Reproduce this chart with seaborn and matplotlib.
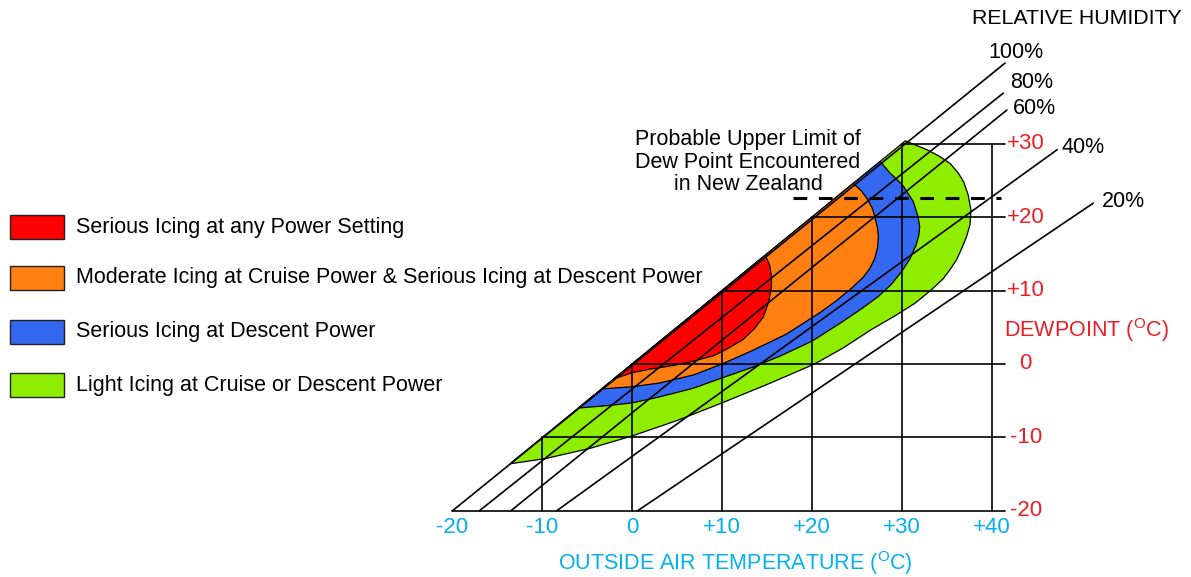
import pandas as pd
import matplotlib.pyplot as plt
from matplotlib.patches import Rectangle
import seaborn as sns

# axis ticks (deg C)
temp_ticks = [-20, -10, 0, 10, 20, 30, 40]
temp_labels = ['-20', '-10', '0', '+10', '+20', '+30', '+40']
dew_ticks = [-20, -10, 0, 10, 20, 30]
dew_labels = ['-20', '-10', '0', '+10', '+20', '+30']

# relative humidity lines (start at dewpoint -20, end point)
rh_names = ['100%', '80%', '60%', '40%', '20%']
rh_t0 = [-20.0, -17.0, -13.5, -8.4, 0.6]
rh_t1 = [41.5, 41.3, 41.7, 47.3, 51.3]
rh_d1 = [41.0, 36.9, 34.6, 29.2, 21.9]

# icing zones, outer boundary from the saturation line, clockwise
green_t = [30.4, 31.6, 32.8, 34.2, 35.4, 36.3, 36.9, 37.4, 37.7, 37.6, 37.2, 36.7, 36.1,
           35.4, 34.6, 33.2, 31.5, 29.3, 26.5, 23.5, 20.3, 15.0, 10.0, 5.0, 0.0, -4.7,
           -9.7, -13.6]
green_d = [30.4, 29.8, 29.2, 28.3, 27.3, 26.0, 24.8, 23.0, 21.0, 19.0, 17.3, 15.8, 14.2,
           12.9, 11.6, 10.0, 8.3, 6.6, 4.6, 2.2, 0.0, -2.8, -5.3, -7.7, -9.8, -11.5,
           -12.9, -13.6]
blue_t = [27.6, 28.7, 29.5, 30.2, 31.3, 31.8, 32.0, 31.9, 31.6, 30.9, 30.0, 28.8, 27.4,
          25.5, 23.2, 20.0, 16.5, 13.5, 10.0, 6.8, 3.0, 0.0, -3.0, -6.0]
blue_d = [27.6, 26.0, 25.1, 24.2, 22.1, 20.1, 18.7, 17.5, 16.2, 14.3, 12.6, 10.8, 9.2,
          7.5, 5.6, 3.1, 1.1, -0.4, -1.9, -3.3, -4.5, -5.3, -5.7, -6.0]
orange_t = [24.6, 25.5, 26.1, 26.7, 27.0, 27.3, 27.4, 27.3, 27.0, 26.5, 25.7, 24.3,
            22.7, 20.9, 17.2, 13.5, 10.0, 6.8, 3.0, 0.0, -3.4]
orange_d = [24.6, 23.6, 22.6, 21.3, 20.1, 18.5, 17.3, 15.8, 14.4, 13.1, 11.8, 10.2,
            8.6, 7.0, 4.1, 1.9, 0.0, -1.5, -2.6, -3.1, -3.4]
red_t = [14.8, 15.3, 15.5, 15.5, 15.2, 14.6, 13.6, 12.3, 10.5, 9.0, 6.5, 4.6, 2.0, 0.0, -2.0]
red_d = [14.8, 13.5, 12.0, 10.5, 8.5, 6.4, 4.8, 3.3, 2.0, 1.1, 0.3, -0.2, -0.7, -1.2, -2.0]

zone_names = ['Serious Icing at any Power Setting',
              'Moderate Icing at Cruise Power & Serious Icing at Descent Power',
              'Serious Icing at Descent Power',
              'Light Icing at Cruise or Descent Power']
zone_colors = ['#FF0000', '#FF7F10', '#3468F0', '#8FEE00']

nz_limit = 22.6  # probable upper dewpoint in NZ
nz_t = [17.9, 41.1]

sns.set_style('white')
plt.rcParams['font.family'] = ['Liberation Sans', 'DejaVu Sans']
plt.rcParams['text.color'] = 'black'
plt.rcParams['mathtext.fontset'] = 'custom'
plt.rcParams['mathtext.rm'] = 'Liberation Sans'

W, H = 1191, 577
fig = plt.figure(figsize=(W / 100, H / 100), dpi=100)
ax = fig.add_axes([0, 0, 1, 1])
ax.set_xlim(-70.35, 62.19)
ax.set_ylim(-29.02, 49.59)

def px(x, y):
    return x / W, 1 - y / H

# zones, largest first so smaller ones sit on top
zones = [(green_t, green_d), (blue_t, blue_d), (orange_t, orange_d), (red_t, red_d)]
for (t, d), c in zip(zones, zone_colors[::-1]):
    ax.fill(t, d, facecolor=c, edgecolor='black', lw=0.9, zorder=1)

# grid
for t in temp_ticks[1:]:
    ax.plot([t, t], [-20, min(t, 30)], color='black', lw=1.2, zorder=2)
for d in dew_ticks:
    ax.plot([max(d, -20), 41.5], [d, d], color='black', lw=1.2, zorder=2)

# RH lines
rh = pd.DataFrame({
    'temp': rh_t0 + rh_t1,
    'dew': [-20.0] * len(rh_t0) + rh_d1,
    'rh': rh_names * 2,
})
sns.lineplot(data=rh, x='temp', y='dew', units='rh', estimator=None, sort=False,
             color='black', lw=1.2, ax=ax, legend=False, zorder=2)
ax.axis('off')

rh_label_pos = [(988, 52), (1010, 82), (1013, 108), (1062, 147), (1102, 202)]
for name, (x, y) in zip(rh_names, rh_label_pos):
    ax.text(*px(x, y), name, transform=fig.transFigure, fontsize=15.5,
            ha='left', va='center')
ax.text(*px(1182, 18), 'RELATIVE HUMIDITY', transform=fig.transFigure,
        fontsize=15.3, ha='right', va='center')

# NZ dewpoint limit
ax.plot(nz_t, [nz_limit, nz_limit], color='black', lw=2.2,
        dashes=(4.5, 3.8), zorder=3)
ax.text(*px(748, 162), 'Probable Upper Limit of\nDew Point Encountered\nin New Zealand',
        transform=fig.transFigure, fontsize=15.5, ha='center', va='center',
        linespacing=1.12)

# axis labels
cyan = '#00B0F0'
red = '#EE1C25'
for t, lab in zip(temp_ticks, temp_labels):
    ax.text(t, -22.3, lab, color=cyan, fontsize=16, ha='center', va='center')
ax.text(*px(735, 563), r'OUTSIDE AIR TEMPERATURE ($\mathregular{^O}$C)',
        transform=fig.transFigure, color=cyan, fontsize=15.5, ha='center', va='center')
for d, lab in zip(dew_ticks, dew_labels):
    ax.text(43.8, d, lab, color=red, fontsize=16, ha='center', va='center')
ax.text(*px(1004, 330), r'DEWPOINT ($\mathregular{^O}$C)', transform=fig.transFigure,
        color=red, fontsize=15.5, ha='left', va='center')

# legend
for i, (name, c) in enumerate(zip(zone_names, zone_colors)):
    yc = [227, 278, 332, 385][i]
    ax.add_patch(Rectangle(px(10, yc + 12), 54 / W, 24 / H, transform=fig.transFigure,
                           facecolor=c, edgecolor='#222222', lw=1.0))
    ax.text(*px(76, yc), name, transform=fig.transFigure, fontsize=15.5,
            ha='left', va='center')

fig.savefig('out.png', dpi=100)
